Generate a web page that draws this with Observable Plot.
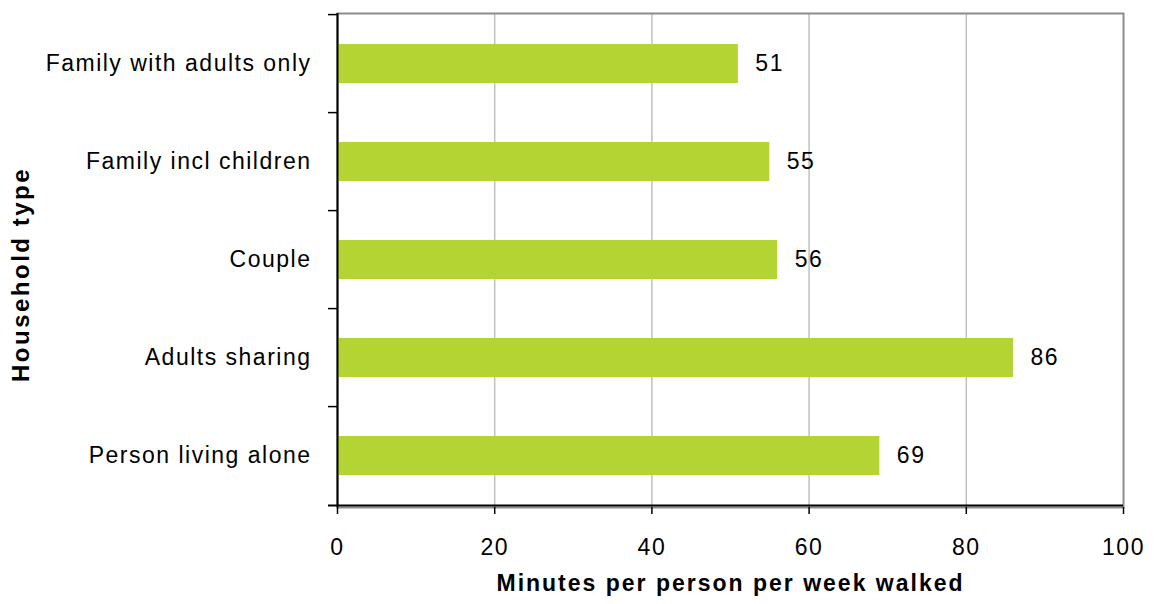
<!DOCTYPE html>
<html>
<head>
<meta charset="utf-8">
<script src="https://cdn.jsdelivr.net/npm/d3@7"></script>
<script src="https://cdn.jsdelivr.net/npm/@observablehq/plot@0.6"></script>
<style>
  html, body { margin: 0; padding: 0; background: #fff; }
  svg text { letter-spacing: 1.5px; }
  g[font-weight="bold"] text { letter-spacing: 2px; }
  g.ytitle text { letter-spacing: 2.5px; }
</style>
</head>
<body>
<div id="chart"></div>
<script>
const categories = ["Family with adults only", "Family incl children", "Couple", "Adults sharing", "Person living alone"];
const minutes = [51, 55, 56, 86, 69];
const xTicks = [0, 20, 40, 60, 80, 100];
const gridValues = [20, 40, 60, 80];
const xTitle = "Minutes per person per week walked";
const yTitle = "Household type";

const data = categories.map((c, i) => ({category: c, value: minutes[i]}));

const W = 1154, H = 604;
const mTop = 13, mBottom = 97, mLeft = 337, mRight = 31;
const step = (H - mTop - mBottom) / categories.length;
const pxPerUnit = (W - mLeft - mRight) / 100;
const tickLen = 9 / pxPerUnit;

const chart = Plot.plot({
  width: W,
  height: H,
  marginTop: mTop,
  marginBottom: mBottom,
  marginLeft: mLeft,
  marginRight: mRight,
  style: {fontFamily: "'Liberation Sans', Arial, sans-serif", fontSize: "23px", color: "#000", background: "#fff"},
  x: {domain: [0, 100], ticks: xTicks},
  y: {domain: categories, paddingInner: 0.6, paddingOuter: 0.3},
  marks: [
    Plot.ruleX(gridValues, {stroke: "#c0c0c0", strokeWidth: 1.5}),
    Plot.frame({stroke: "#8c8c8c", strokeWidth: 2}),
    Plot.barX(data, {y: "category", x: "value", fill: "#b4d434"}),
    Plot.text(data, {y: "category", x: "value", text: d => String(d.value), dx: 17, textAnchor: "start", fontSize: 23, fill: "#000"}),
    Plot.ruleX([0], {stroke: "#000", strokeWidth: 2}),
    Plot.ruleY(categories, {y: d => d, dy: -step / 2, x1: -tickLen, x2: 0, stroke: "#000", strokeWidth: 1.5}),
    Plot.ruleY([categories[categories.length - 1]], {y: d => d, dy: step / 2, x1: -tickLen, x2: 100, stroke: "#000", strokeWidth: 2}),
    Plot.axisX({ticks: xTicks, tickSize: 7, tickPadding: 24, fontSize: 23, label: null, stroke: "#000", strokeWidth: 1.5}),
    Plot.axisY({tickSize: 0, tickPadding: 26, fontSize: 23, label: null}),
    Plot.text([xTitle], {frameAnchor: "bottom", dy: 83, text: d => d, fontWeight: "bold", fontSize: 23, fill: "#000"}),
    Plot.text([yTitle], {frameAnchor: "left", textAnchor: "middle", dx: -316, dy: 14, rotate: -90, text: d => d, fontWeight: "bold", fontSize: 24, fill: "#000"})
  ]
});

d3.select(chart).selectAll("g").filter(function () {
  const t = d3.select(this).selectAll("text");
  return t.size() === 1 && t.text() === yTitle;
}).classed("ytitle", true);

document.getElementById("chart").appendChild(chart);
</script>
</body>
</html>
